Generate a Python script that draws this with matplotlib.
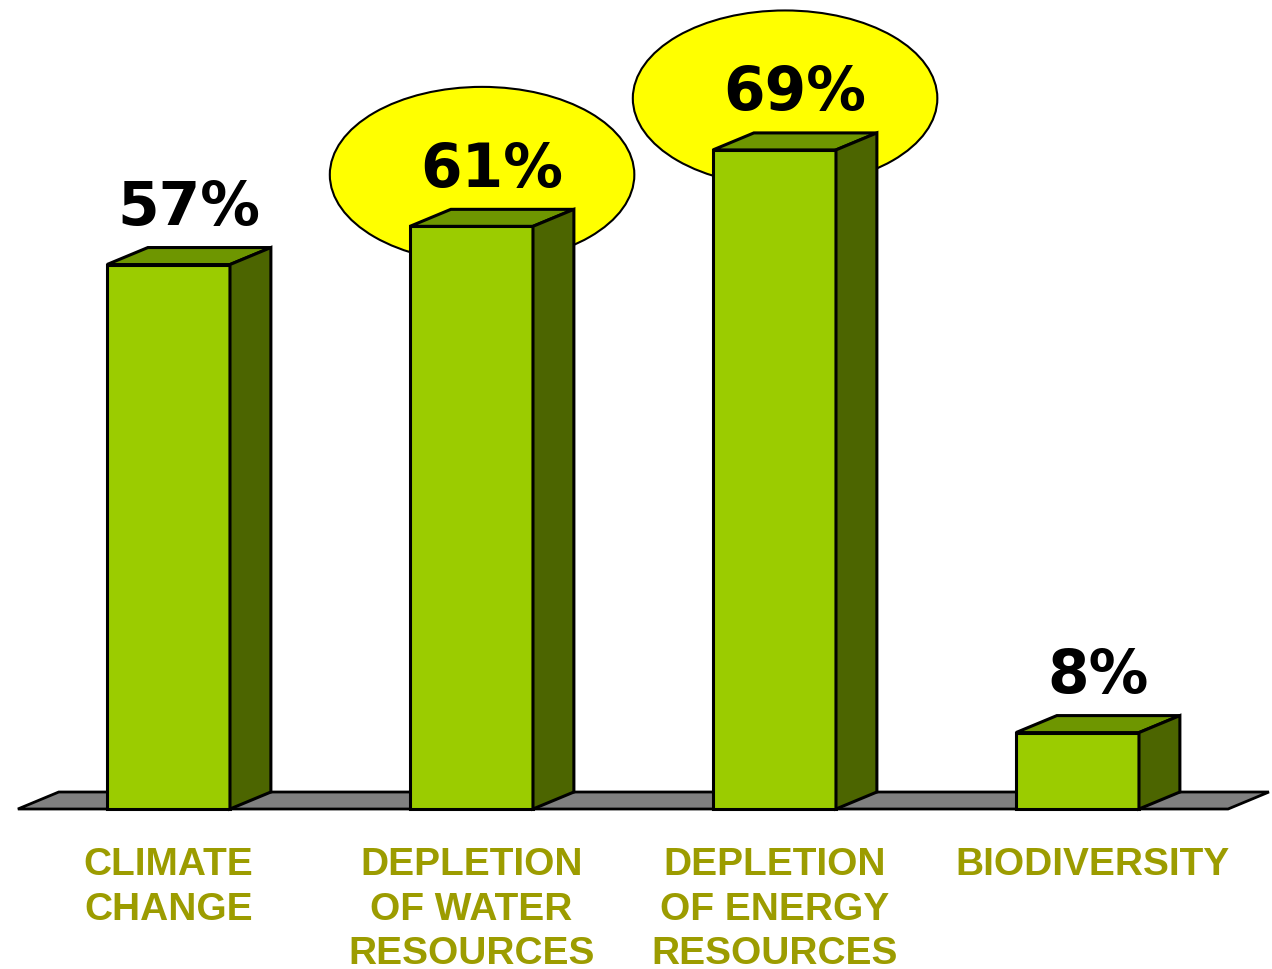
import matplotlib
matplotlib.use("Agg")
import matplotlib.pyplot as plt
from matplotlib.patches import Polygon, Ellipse

# Dữ liệu
categories = ["CLIMATE\nCHANGE", "DEPLETION\nOF WATER\nRESOURCES",
              "DEPLETION\nOF ENERGY\nRESOURCES", "BIODIVERSITY"]
values = [57, 61, 69, 8]
highlight = [False, True, True, False]

# Màu sắc các mặt của cột 3D
mau_truoc = "#9BCC00"
mau_tren = "#6E9600"
mau_ben = "#4C6500"
mau_chu = "#9C9C00"

rong = 0.406      # bề rộng cột
dx, dy = 0.135, 1.78   # độ sâu giả 3D

fig = plt.figure(figsize=(12.72, 9.70), dpi=100)
ax = fig.add_axes([0, 0, 1, 1])
ax.set_xlim(-0.556, 3.642)
ax.set_ylim(-16.75, 84.8)
ax.axis("off")

# Sàn màu xám
x0, x1 = -0.497, 3.497
ax.add_patch(Polygon([(x0, 0), (x1, 0), (x1 + dx, dy), (x0 + dx, dy)],
                     closed=True, fc="#808080", ec="black", lw=2, zorder=1))

for i, (v, hl) in enumerate(zip(values, highlight)):
    l, r = i - rong / 2, i + rong / 2
    # Hình elip vàng nhấn mạnh
    if hl:
        ax.add_patch(Ellipse((i + 0.035, v + 5.4), 1.005, 18.4,
                             fc="#FFFF00", ec="black", lw=1.5, zorder=2))
    # Mặt trước, mặt trên, mặt bên
    ax.add_patch(Polygon([(l, 0), (r, 0), (r, v), (l, v)],
                         closed=True, fc=mau_truoc, ec="black", lw=2.2, zorder=3))
    ax.add_patch(Polygon([(l, v), (r, v), (r + dx, v + dy), (l + dx, v + dy)],
                         closed=True, fc=mau_tren, ec="black", lw=2.2, zorder=3))
    ax.add_patch(Polygon([(r, 0), (r + dx, dy), (r + dx, v + dy), (r, v)],
                         closed=True, fc=mau_ben, ec="black", lw=2.2, zorder=3))
    # Nhãn giá trị
    ax.text(i + dx / 2, v + 6.0, f"{v}%", ha="center", va="center",
            fontsize=43, fontweight="bold", family="DejaVu Sans", color="black", zorder=4)
    # Nhãn danh mục
    ax.text(i + (0.05 if i == 3 else 0), -3.9, categories[i], ha="center", va="top",
            fontsize=28, fontweight="bold", family="Liberation Sans", color=mau_chu,
            linespacing=1.3, zorder=4)

fig.savefig("out.png", dpi=100)
